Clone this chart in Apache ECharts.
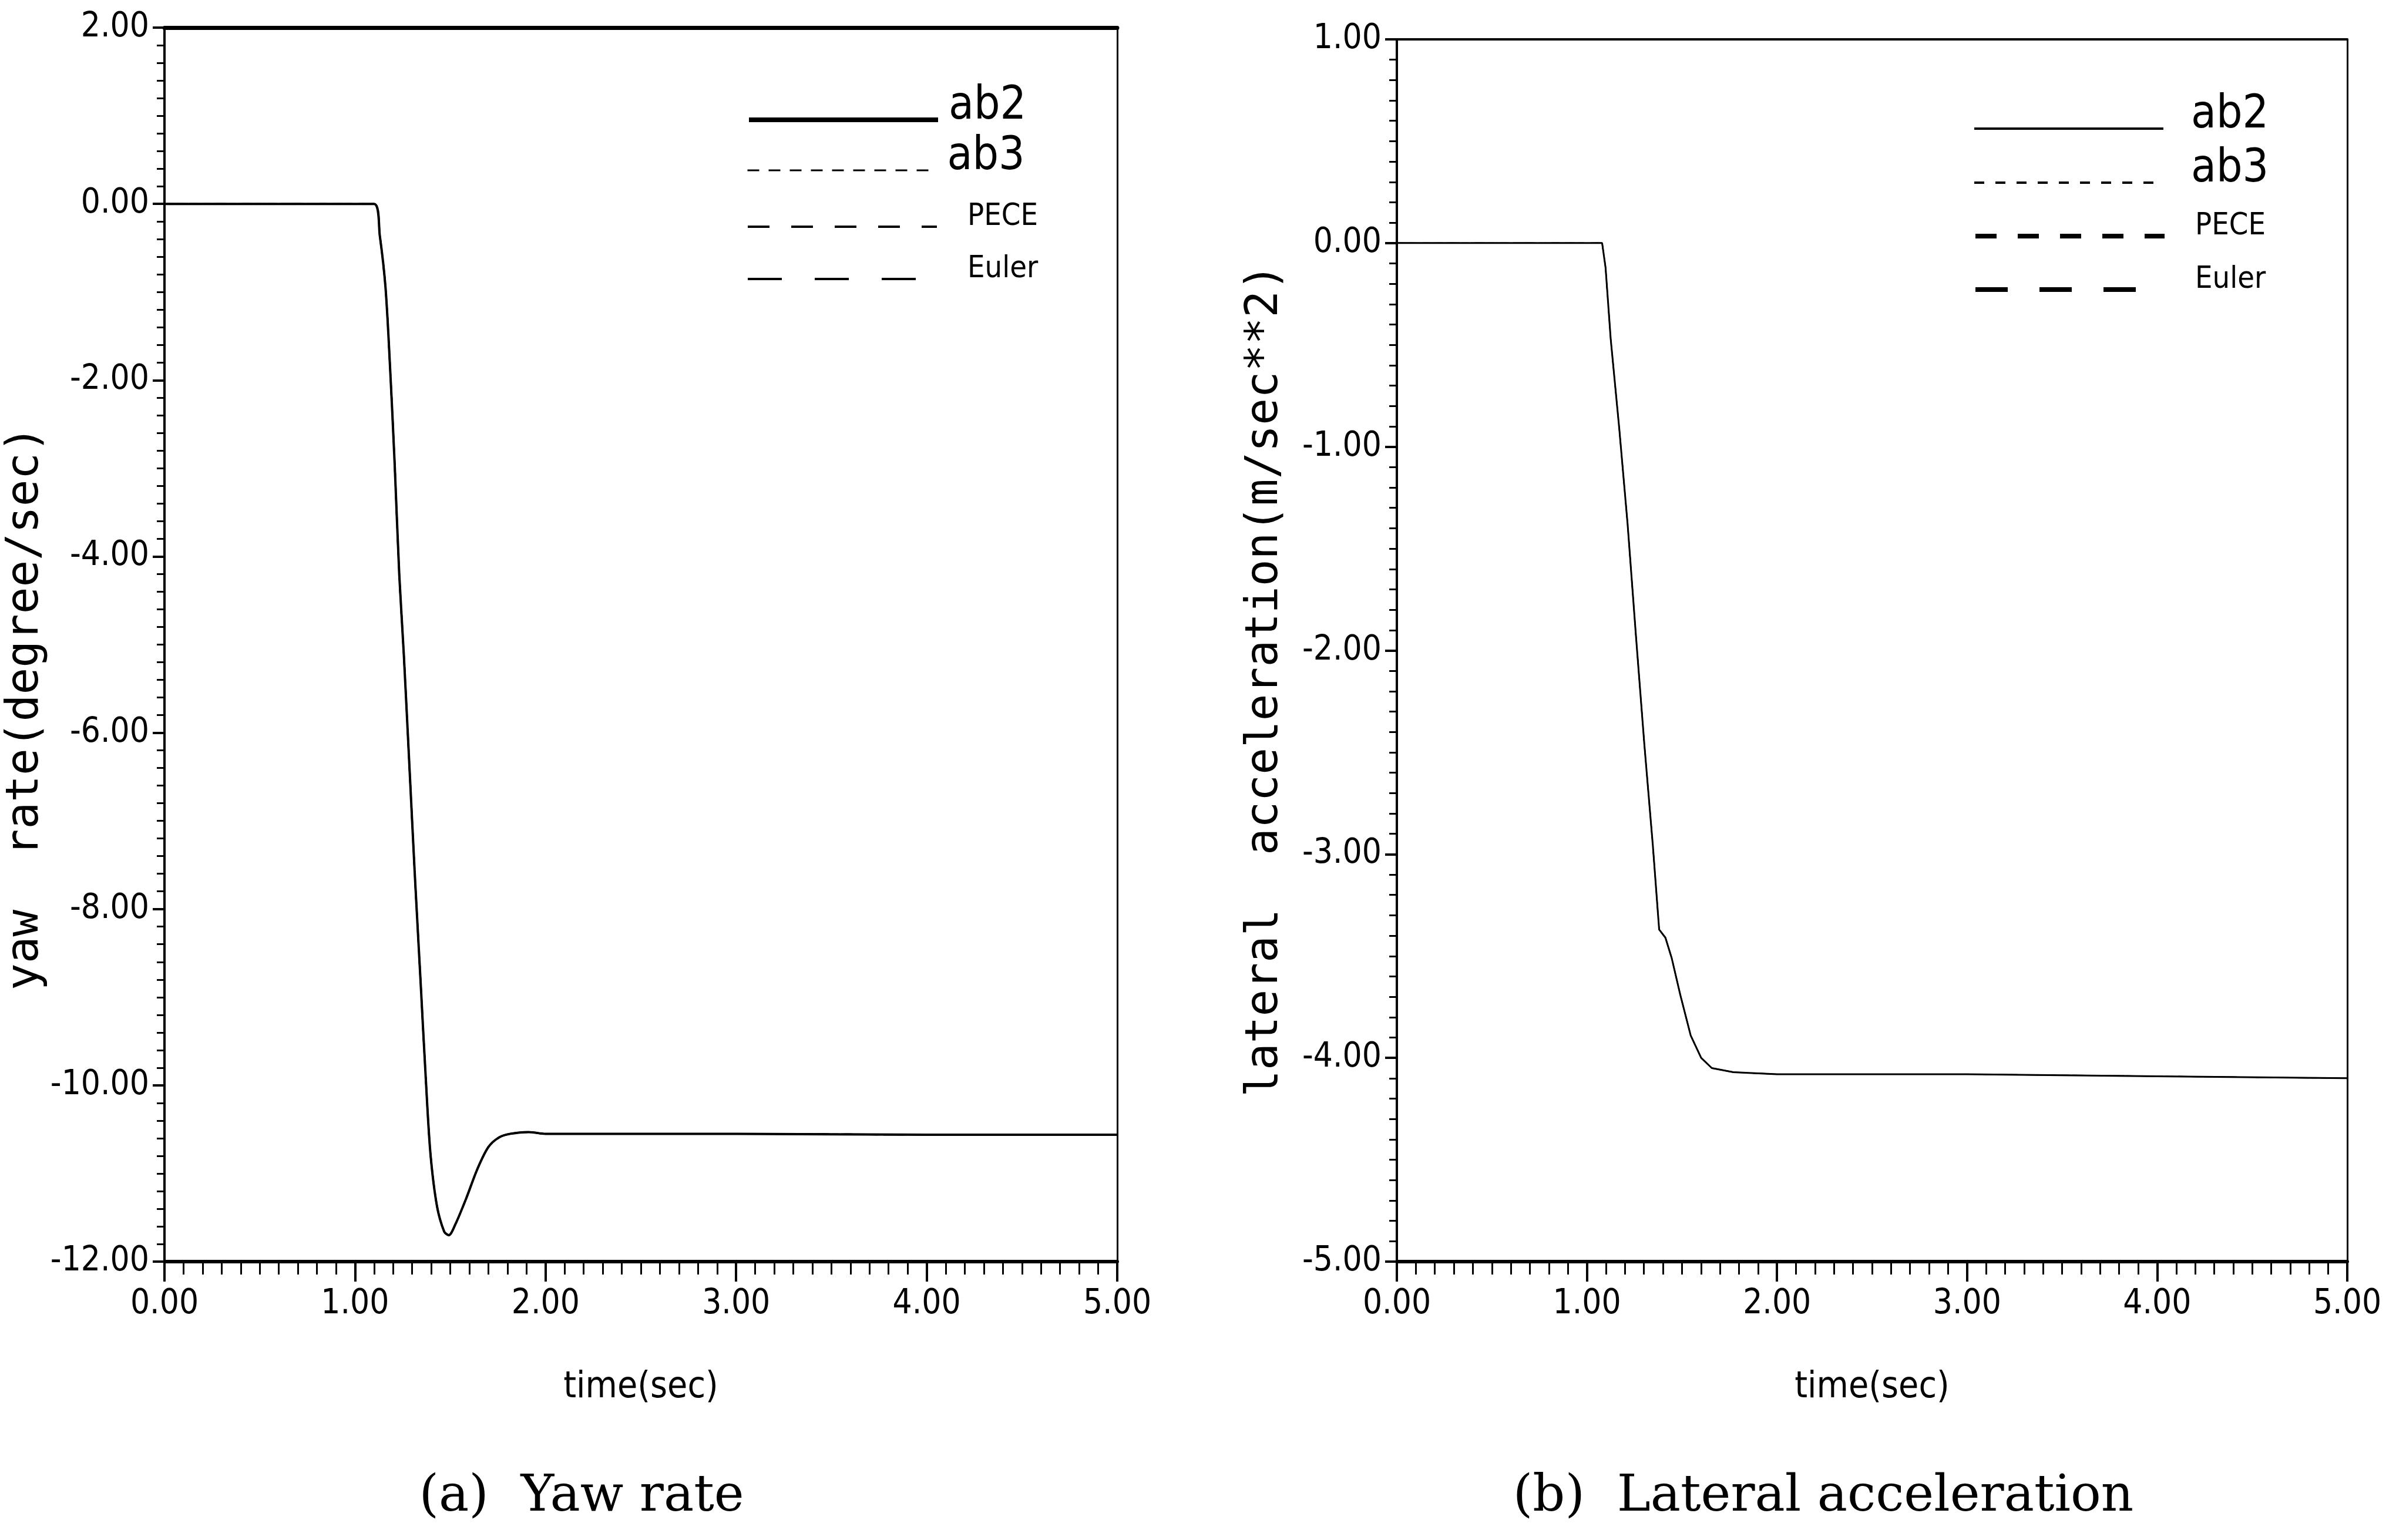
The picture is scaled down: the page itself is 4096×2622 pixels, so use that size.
<!DOCTYPE html>
<html>
<head>
<meta charset="utf-8">
<script src="https://cdn.jsdelivr.net/npm/echarts@6/dist/echarts.min.js"></script>
<style>
html, body { margin: 0; padding: 0; background: #fff; }
#main { width: 4096px; height: 2622px; }
</style>
</head>
<body>
<div id="main"></div>
<script>
// yaw rate (degree/sec) vs time (a)
var yaw_time = [0, 1.10, 1.13, 1.16, 1.184, 1.208, 1.232, 1.256, 1.285, 1.314, 1.343, 1.372, 1.396, 1.43, 1.468, 1.492, 1.526, 1.584, 1.642, 1.70, 1.757, 1.815, 1.91, 2.0, 3.0, 4.0, 5.0]
var yaw_rate = [0, 0, -0.36, -0.95, -1.86, -2.95, -4.20, -5.11, -6.36, -7.62, -8.78, -9.95, -10.78, -11.37, -11.66, -11.70, -11.58, -11.28, -10.95, -10.70, -10.59, -10.55, -10.53, -10.55, -10.55, -10.56, -10.56]

// lateral acceleration (m/sec**2) vs time, plot (b)
var lat_time = [0, 1.08, 1.098, 1.125, 1.17, 1.214, 1.258, 1.302, 1.347, 1.38, 1.413, 1.446, 1.491, 1.546, 1.601, 1.657, 1.77, 2.0, 3.0, 4.0, 5.0]
var lat_acc = [0, 0, -0.12, -0.47, -0.91, -1.38, -1.93, -2.46, -2.96, -3.37, -3.41, -3.51, -3.69, -3.89, -4.00, -4.05, -4.07, -4.08, -4.08, -4.09, -4.10]

var methods = ['ab2', 'ab3', 'PECE', 'Euler']
var captions = ['(a)  Yaw rate', '(b)  Lateral acceleration']

var narrow = '"Liberation Sans Narrow", "DejaVu Sans Condensed", sans-serif'
var mono = '"DejaVu Sans Mono", monospace'

function pairs(xs, ys){
  var out = []
  for (var i = 0; i < xs.length; i++) out.push([xs[i], ys[i]])
  return out
}

function fmt(v){ return v.toFixed(2) }

function bottom_axis(gi){
  return {
    type: 'value', gridIndex: gi, min: 0, max: 5, interval: 1,
    name: 'time(sec)', nameLocation: 'middle', nameGap: 184,
    nameTextStyle: { fontFamily: narrow, fontSize: 62, color: '#000' },
    axisLine: { show: true, onZero: false, lineStyle: { color: '#000', width: 6 } },
    axisTick: { show: true, length: 34, lineStyle: { color: '#000', width: 4 } },
    minorTick: { show: true, splitNumber: 10, length: 22, lineStyle: { color: '#000', width: 3 } },
    axisLabel: { margin: 44, fontFamily: narrow, fontSize: 58, color: '#000', formatter: fmt },
    splitLine: { show: false }
  }
}

function top_axis(gi, w){
  return {
    type: 'value', gridIndex: gi, position: 'top', min: 0, max: 5,
    axisLine: { show: true, onZero: false, lineStyle: { color: '#000', width: w } },
    axisTick: { show: false }, axisLabel: { show: false }, splitLine: { show: false }
  }
}

function left_axis(gi, min, max, step, name, shift){
  return {
    type: 'value', gridIndex: gi, min: min, max: max, interval: step,
    name: name, nameLocation: 'middle', nameGap: 186, nameRotate: 90,
    nameTextStyle: { fontFamily: mono, fontSize: 76, color: '#000', padding: [0, 2 * shift, 0, 0] },
    axisLine: { show: true, onZero: false, lineStyle: { color: '#000', width: 4 } },
    axisTick: { show: true, length: 20, lineStyle: { color: '#000', width: 4 } },
    minorTick: { show: true, splitNumber: 10, length: 13, lineStyle: { color: '#000', width: 3 } },
    axisLabel: { margin: 26, fontFamily: narrow, fontSize: 58, color: '#000', formatter: fmt },
    splitLine: { show: false }
  }
}

function right_axis(gi, min, max, w){
  return {
    type: 'value', gridIndex: gi, position: 'right', min: min, max: max,
    axisLine: { show: true, onZero: false, lineStyle: { color: '#000', width: w } },
    axisTick: { show: false }, axisLabel: { show: false }, splitLine: { show: false }
  }
}

// all four integrators give the same curve, so the lines sit on top of each other
var curve_type = { ab2: 'solid', ab3: [12, 10], PECE: [24, 18], Euler: [40, 26] }

function curves(xi, yi, data, w, smooth){
  return methods.map(function(m, k){
    return {
      name: m, type: 'line', xAxisIndex: xi, yAxisIndex: yi,
      symbol: 'none', silent: true, z: 10 - k, smooth: smooth,
      lineStyle: { color: '#000', width: k === 0 ? w : w - 1, type: curve_type[m] },
      data: data
    }
  })
}

// one legend box per entry so each row sits where it is in the picture
function legend_rows(left, line_y, pad_left, widths, dashes){
  return methods.map(function(m, k){
    var big = m.indexOf('ab') === 0
    var fs = big ? 78 : 52
    var lift = big ? 44 : 34
    return {
      orient: 'vertical', left: left, top: line_y[k] - (fs + lift) / 2,
      itemWidth: 322, itemHeight: 12, itemGap: 0,
      selectedMode: false,
      data: [{
        name: m,
        lineStyle: { color: '#000', width: widths[k], type: dashes[k] },
        itemStyle: { color: 'rgba(0,0,0,0)', borderWidth: 0, borderColor: 'rgba(0,0,0,0)' }
      }],
      formatter: function(name){ return '{t|' + name + '}' },
      textStyle: {
        color: '#000', padding: [0, 0, lift, pad_left[k]],
        rich: { t: { fontFamily: narrow, fontSize: fs, lineHeight: fs, color: '#000' } }
      }
    }
  })
}

var caption_style = { fontFamily: '"DejaVu Serif", serif', fontSize: 86, fontWeight: 'normal', color: '#000' }

var myChart = echarts.init(document.getElementById('main'))

myChart.setOption({
  backgroundColor: '#fff',
  animation: false,
  title: [
    { text: captions[0], left: 985, top: 2502, textAlign: 'center', textStyle: caption_style },
    { text: captions[1], left: 3099, top: 2502, textAlign: 'center', textStyle: caption_style }
  ],
  legend: legend_rows(1266, [199, 285, 381, 470], [13, 13, 47, 47], [8, 3, 4, 4], ['solid', [20, 16], [37, 37], [58, 56]])
    .concat(legend_rows(3354, [214, 306, 397, 488], [42, 42, 47, 47], [4, 4, 8, 8], ['solid', [17, 19], [36, 36], [55, 54]])),
  grid: [
    { left: 280, right: 2194, top: 47, bottom: 474 },
    { left: 2378, right: 100, top: 67, bottom: 474 }
  ],
  xAxis: [bottom_axis(0), top_axis(0, 7), bottom_axis(1), top_axis(1, 4)],
  yAxis: [
    left_axis(0, -12, 2, 2, 'yaw  rate(degree/sec)', 108),
    right_axis(0, -12, 2, 3),
    left_axis(1, -5, 1, 1, 'lateral  acceleration(m/sec**2)', 51),
    right_axis(1, -5, 1, 3)
  ],
  series: curves(0, 0, pairs(yaw_time, yaw_rate), 4, 0.3)
    .concat(curves(2, 2, pairs(lat_time, lat_acc), 3, false))
})
</script>
</body>
</html>
